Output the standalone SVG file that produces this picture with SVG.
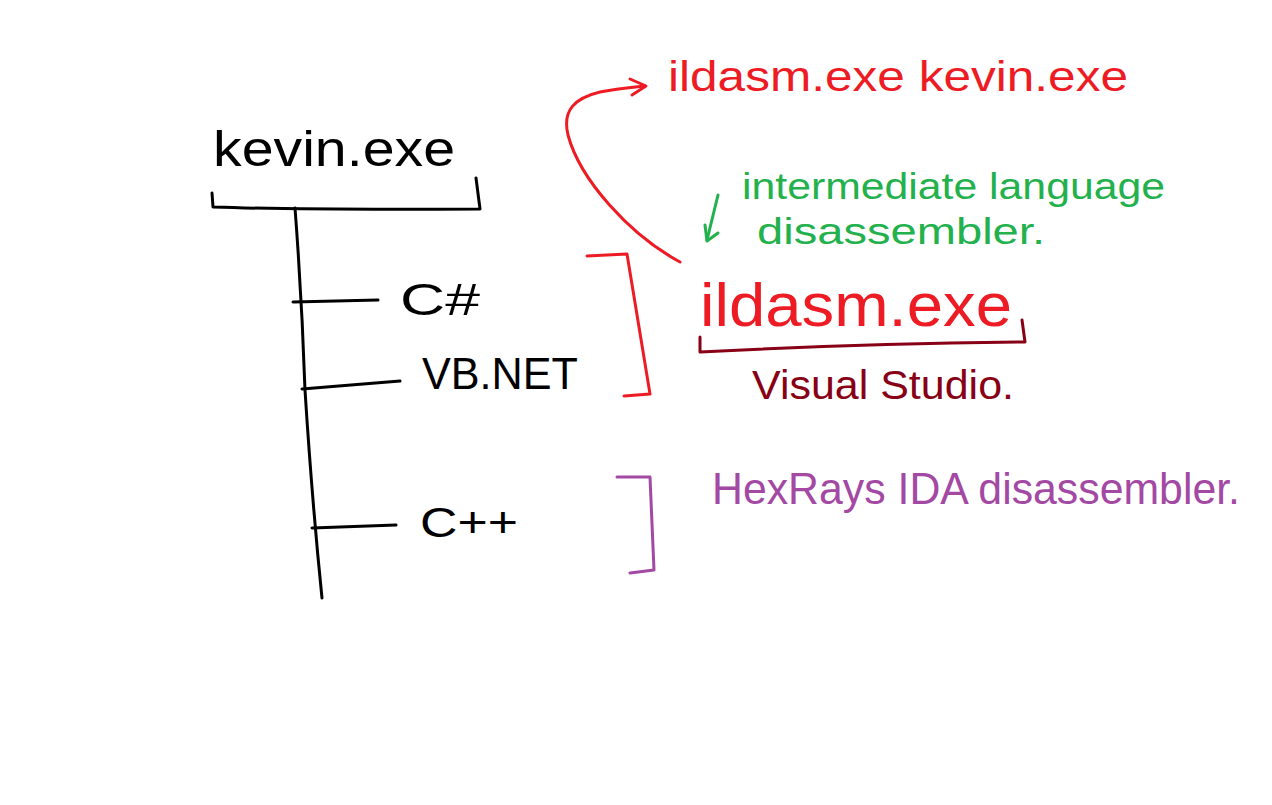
<svg xmlns="http://www.w3.org/2000/svg" width="1272" height="805" viewBox="0 0 1272 805">
<style>
  text { font-family: "Liberation Sans", "DejaVu Sans", sans-serif; }
  .ln { fill: none; stroke-width: 3; stroke-linecap: round; stroke-linejoin: round; }
  .k { stroke: #000; } .r { stroke: #ed1c24; } .g { stroke: #22b14c; } .dr { stroke: #880015; } .p { stroke: #a349a4; }
  .tk { fill: #000; } .tr { fill: #ed1c24; } .tg { fill: #22b14c; } .tdr { fill: #880015; } .tp { fill: #a349a4; }
</style>
<rect width="1272" height="805" fill="#fff"/>
<g id="connectors">
  <path class="ln k" d="M212,193 L213,207 Q300,210 480,209 L476,178"/>
  <path class="ln k" d="M295,208 Q302,300 305,390 Q312,500 322,598"/>
  <path class="ln k" d="M293,302 L378,300"/>
  <path class="ln k" d="M302,389 L400,381"/>
  <path class="ln k" d="M312,528 L396,525"/>
  <path class="ln r" d="M587,256 L627,254 L650,394 L624,396"/>
  <path class="ln p" d="M617,477 L650,477 L654,570 L630,573"/>
  <path class="ln r" d="M680,262 C630,235 580,180 568,135 C562,110 575,98 600,92 C620,88 635,87 645,86"/>
  <path class="ln r" d="M630,79 L646,86 L632,95"/>
  <path class="ln g" d="M718,195 L707,240"/>
  <path class="ln g" d="M705,225 L707,241 L718,233"/>
  <path class="ln dr" d="M700,337 L700,352 Q850,344 1025,342 L1022,320"/>
</g>
<g id="kevin">
  <text class="tk" x="213" y="166" font-size="50" textLength="242" lengthAdjust="spacingAndGlyphs">kevin.exe</text>
</g>
<g id="csharp">
  <text class="tk" x="400" y="315" font-size="44" textLength="80" lengthAdjust="spacingAndGlyphs">C#</text>
</g>
<g id="vbnet">
  <text class="tk" x="422" y="389" font-size="44" textLength="156" lengthAdjust="spacingAndGlyphs">VB.NET</text>
</g>
<g id="cpp">
  <text class="tk" x="420" y="537" font-size="42" textLength="98" lengthAdjust="spacingAndGlyphs">C++</text>
</g>
<g id="cmd">
  <text class="tr" x="668" y="91" font-size="42" textLength="460" lengthAdjust="spacingAndGlyphs">ildasm.exe kevin.exe</text>
</g>
<g id="il">
  <text class="tg" x="742" y="199" font-size="36" textLength="423" lengthAdjust="spacingAndGlyphs">intermediate language</text>
  <text class="tg" x="757" y="244" font-size="36" textLength="288" lengthAdjust="spacingAndGlyphs">disassembler.</text>
</g>
<g id="ildasm">
  <text class="tr" x="700" y="326" font-size="62" textLength="312" lengthAdjust="spacingAndGlyphs">ildasm.exe</text>
</g>
<g id="vs">
  <text class="tdr" x="752" y="399" font-size="40" textLength="262" lengthAdjust="spacingAndGlyphs">Visual Studio.</text>
</g>
<g id="ida">
  <text class="tp" x="712" y="504" font-size="44" textLength="528" lengthAdjust="spacingAndGlyphs">HexRays IDA disassembler.</text>
</g>
</svg>
